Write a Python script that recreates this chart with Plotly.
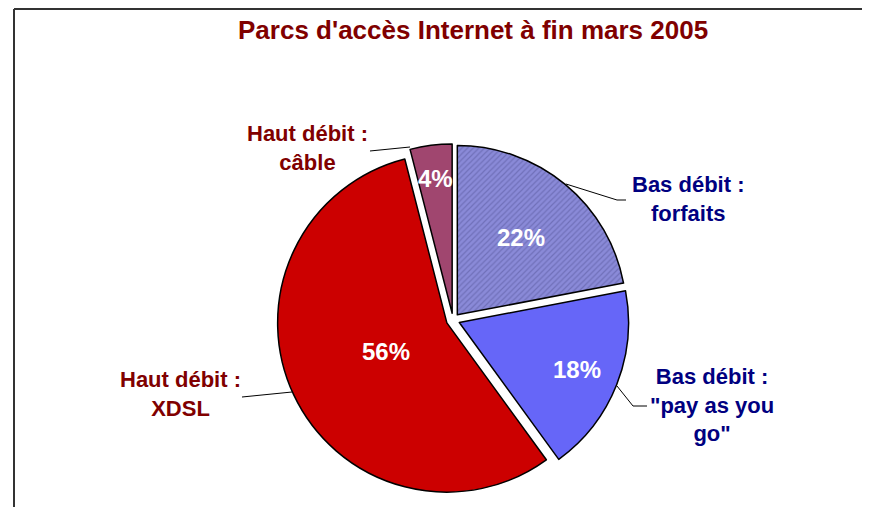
import math
import plotly.graph_objects as go

# ---- data ----
categories = ['Bas débit : forfaits', 'Bas débit : "pay as you go"', 'Haut débit : XDSL', 'Haut débit : câble']
label_text = ['Bas débit :<br>forfaits', 'Bas débit :<br>"pay as you<br>go"', 'Haut débit :<br>XDSL', 'Haut débit :<br>câble']
values = [22, 18, 56, 4]
title_text = "Parcs d'accès Internet à fin mars 2005"

# ---- styles ----
OFF = 8  # page body margin
W, H = 870 - OFF, 507 - OFF
slice_colors = ['#8A8AD8', '#6666F8', '#CC0000', '#A0466F']
label_colors = ['#000080', '#000080', '#800000', '#800000']
PULL = 0.04
PIE_X = (277, 629)   # screen px extent of pie domain
PIE_Y = (144, 496)
pct_radius = [0.59, 0.75, 0.40, 0.80]   # where the % text sits (fraction of radius)
# label block centres (screen px) and leader lines (screen px)
label_pos = [(688, 199), (712, 405), (180, 394), (307, 148)]
leaders = [
    [(566, 184), (617, 200), (626, 200)],
    [(617, 386), (633, 406), (647, 406)],
    [(242, 397), (292, 392)],
    [(370, 151), (410, 147)],
]
FONT = 'Liberation Sans, Arial, sans-serif'

def px(x):
    return (x - OFF) / W

def py(y):
    return 1 - (y - OFF) / H

fig = go.Figure()
fig.add_trace(go.Pie(
    labels=categories,
    values=values,
    sort=False,
    direction='clockwise',
    rotation=0,
    pull=[PULL] * len(values),
    marker=dict(
        colors=slice_colors,
        line=dict(color='black', width=1.5),
        pattern=dict(shape=['/', '', '', ''], fillmode='overlay', fgcolor='#5A5AA0',
                     fgopacity=0.55, size=4, solidity=0.3),
    ),
    textinfo='none',
    domain=dict(x=[px(PIE_X[0]), px(PIE_X[1])], y=[py(PIE_Y[1]), py(PIE_Y[0])]),
    showlegend=False,
    hoverinfo='label+percent',
))

annotations = [dict(
    text='<b>' + title_text + '</b>', x=px(473), y=py(30), xref='paper', yref='paper',
    xanchor='center', yanchor='middle', showarrow=False,
    font=dict(family=FONT, size=26, color='#800000'),
)]
for txt, (cx, cy), col in zip(label_text, label_pos, label_colors):
    annotations.append(dict(
        text='<b>' + txt + '</b>', x=px(cx), y=py(cy), xref='paper', yref='paper',
        xanchor='center', yanchor='middle', showarrow=False, align='center',
        font=dict(family=FONT, size=22, color=col),
    ))

# percentage labels, placed along each slice's mid angle
total = sum(values)
pcx = (PIE_X[0] + PIE_X[1]) / 2
pcy = (PIE_Y[0] + PIE_Y[1]) / 2
R = (PIE_X[1] - PIE_X[0]) / (2 * (1 + PULL))
cum = 0
for v, frac in zip(values, pct_radius):
    theta = math.radians((cum + v / 2) / total * 360)
    cum += v
    r = frac * R + PULL * R
    sx = pcx + r * math.sin(theta)
    sy = pcy - r * math.cos(theta)
    annotations.append(dict(
        text=f'<b>{round(100 * v / total)}%</b>', x=px(sx), y=py(sy), xref='paper', yref='paper',
        xanchor='center', yanchor='middle', showarrow=False,
        font=dict(family=FONT, size=24, color='white'),
    ))

shapes = []
for pts in leaders:
    path = 'M ' + ' L '.join(f'{px(x):.5f},{py(y):.5f}' for x, y in pts)
    shapes.append(dict(type='path', path=path, xref='paper', yref='paper',
                       line=dict(color='black', width=1)))
# frame (top and left edges)
shapes.append(dict(type='line', xref='paper', yref='paper', x0=px(14), y0=py(9), x1=px(870), y1=py(9),
                   line=dict(color='#333333', width=2)))
shapes.append(dict(type='line', xref='paper', yref='paper', x0=px(14), y0=py(9), x1=px(14), y1=py(507),
                   line=dict(color='#333333', width=2)))

fig.update_layout(
    width=W, height=H,
    margin=dict(l=0, r=0, t=0, b=0),
    paper_bgcolor='white', plot_bgcolor='white',
    annotations=annotations,
    shapes=shapes,
)

fig.write_html('out.html')
